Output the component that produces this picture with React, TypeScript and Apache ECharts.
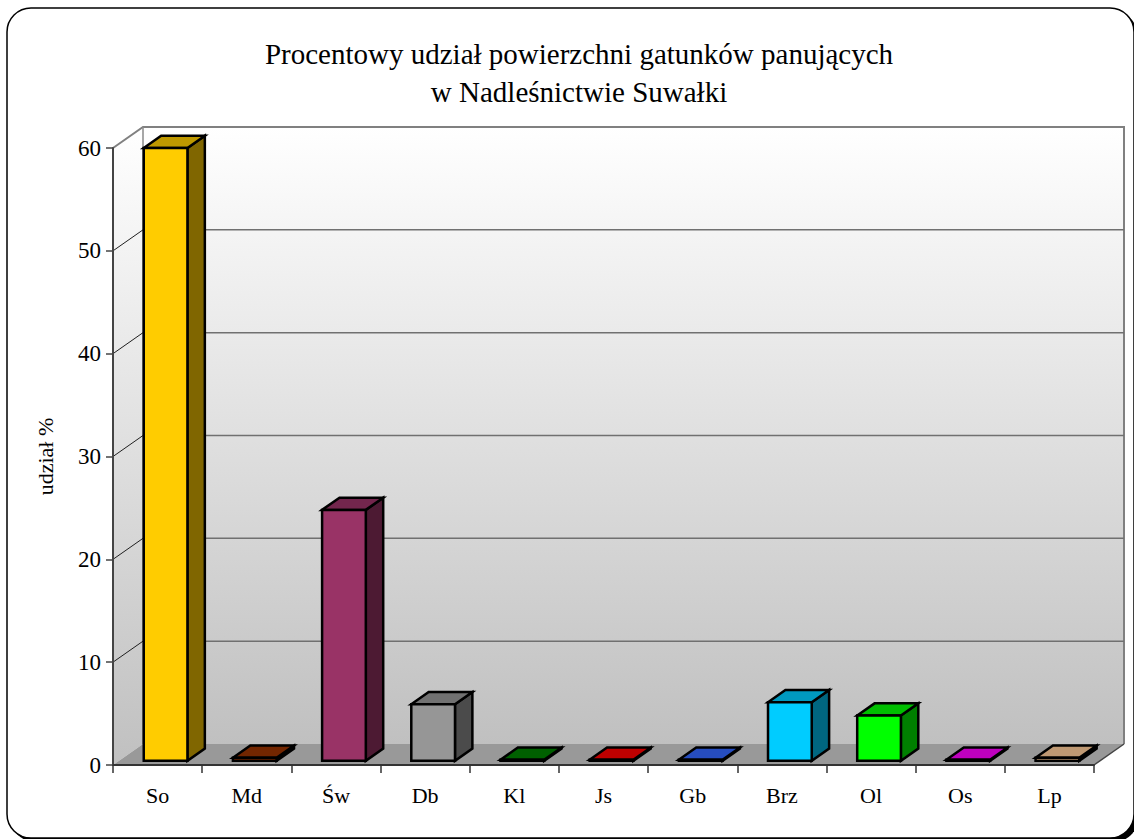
import React, { useEffect, useRef } from "react";
import * as echarts from "echarts";

const categories = ["So", "Md", "Św", "Db", "Kl", "Js", "Gb", "Brz", "Ol", "Os", "Lp"];
const values = [59.6, 0.3, 24.4, 5.5, 0.1, 0.1, 0.1, 5.7, 4.4, 0.1, 0.3];
const barColors = [
  "#FFCC00", "#993300", "#993366", "#969696", "#008000", "#FF0000",
  "#3366FF", "#00CCFF", "#00FF00", "#FF00FF", "#FFCC99",
];
const yTicks = [10, 20, 30, 40, 50];
const titleText = "Procentowy udział powierzchni gatunków panujących\nw Nadleśnictwie Suwałki";
const yAxisName = "udział %";

const DX = 30;
const DY = -21;
const BAR_SHIFT = 2;
const FONT = "'Liberation Serif', 'Times New Roman', serif";

function shade(hex: string, k: number): string {
  const n = parseInt(hex.slice(1), 16);
  const r = Math.round(((n >> 16) & 255) * k);
  const g = Math.round(((n >> 8) & 255) * k);
  const b = Math.round((n & 255) * k);
  return "rgb(" + r + "," + g + "," + b + ")";
}

export default function App() {
  const ref = useRef<HTMLDivElement>(null);
  useEffect(() => {
    if (!ref.current) return;
    const chart = echarts.init(ref.current, undefined, { renderer: "svg" });
    const wallGrad = () =>
      new echarts.graphic.LinearGradient(0, 0, 0, 1, [
        { offset: 0, color: "#FFFFFF" },
        { offset: 1, color: "#C0C0C0" },
      ]);
    const option: any = {
      animation: false,
      backgroundColor: "#FFFFFF",
      title: {
        text: titleText,
        left: 574,
        textAlign: "center",
        top: 30,
        textStyle: {
          fontFamily: FONT,
          fontSize: 29,
          fontWeight: "normal",
          lineHeight: 38,
          color: "#000",
        },
      },
      graphic: [
        {
          type: "rect",
          z: -10,
          shape: { x: 11, y: 12, width: 1127, height: 830, r: 24 },
          style: { fill: "#000" },
        },
        {
          type: "rect",
          z: -9,
          shape: { x: 7, y: 8, width: 1127, height: 830, r: 24 },
          style: { fill: "#FFFFFF", stroke: "#000", lineWidth: 1.5 },
        },
      ],
      grid: { left: 113, right: 40, top: 148, bottom: 74 },
      xAxis: {
        type: "category",
        data: categories,
        z: 10,
        axisLine: { lineStyle: { color: "#333", width: 2 } },
        axisTick: { show: true, length: 8, lineStyle: { color: "#333", width: 1.5 } },
        axisLabel: { fontFamily: FONT, fontSize: 22, color: "#000", margin: 19 },
        splitLine: { show: false },
      },
      yAxis: {
        type: "value",
        min: 0,
        max: 60,
        interval: 10,
        z: 10,
        name: yAxisName,
        nameLocation: "middle",
        nameRotate: 90,
        nameGap: 57,
        nameTextStyle: { fontFamily: FONT, fontSize: 22, color: "#000" },
        axisLine: { show: true, lineStyle: { color: "#444", width: 2 } },
        axisTick: { show: true, length: 7, lineStyle: { color: "#444", width: 1.5 } },
        axisLabel: { fontFamily: FONT, fontSize: 23, color: "#000", margin: 12 },
        splitLine: { show: false },
      },
      series: [
        {
          type: "custom",
          name: "walls",
          z: 1,
          clip: false,
          silent: true,
          data: [[0, 0]],
          renderItem: (params: any, api: any) => {
            const cs = params.coordSys;
            const x0 = cs.x, x1 = cs.x + cs.width, yt = cs.y, yb = cs.y + cs.height;
            return {
              type: "group",
              children: [
                {
                  type: "rect",
                  shape: { x: x0 + DX, y: yt + DY, width: x1 - x0, height: yb - yt },
                  style: { fill: wallGrad() },
                },
                {
                  type: "polygon",
                  shape: { points: [[x0, yt], [x0 + DX, yt + DY], [x0 + DX, yb + DY], [x0, yb]] },
                  style: { fill: wallGrad() },
                },
                {
                  type: "polygon",
                  shape: { points: [[x0, yb], [x1, yb], [x1 + DX, yb + DY], [x0 + DX, yb + DY]] },
                  style: { fill: "#999999" },
                },
                {
                  type: "polyline",
                  shape: { points: [[x0, yt], [x0 + DX, yt + DY], [x1 + DX, yt + DY], [x1 + DX, yb + DY]] },
                  style: { fill: "none", stroke: "#808080", lineWidth: 2 },
                },
                {
                  type: "line",
                  shape: { x1: x0 + DX, y1: yt + DY, x2: x0 + DX, y2: yb + DY },
                  style: { stroke: "#8a8a8a", lineWidth: 1.5 },
                },
                {
                  type: "line",
                  shape: { x1: x1, y1: yb, x2: x1 + DX, y2: yb + DY },
                  style: { stroke: "#444", lineWidth: 1.5 },
                },
              ],
            };
          },
        },
        {
          type: "custom",
          name: "gridlines",
          z: 2,
          clip: false,
          silent: true,
          data: yTicks.map((v) => [0, v]),
          encode: { x: 0, y: 1 },
          renderItem: (params: any, api: any) => {
            const cs = params.coordSys;
            const x0 = cs.x, x1 = cs.x + cs.width;
            const y = api.coord([0, api.value(1)])[1];
            return {
              type: "group",
              children: [
                {
                  type: "line",
                  shape: { x1: x0 + DX, y1: y + DY, x2: x1 + DX, y2: y + DY },
                  style: { stroke: "#707070", lineWidth: 1.5 },
                },
                {
                  type: "line",
                  shape: { x1: x0, y1: y, x2: x0 + DX, y2: y + DY },
                  style: { stroke: "#202020", lineWidth: 1 },
                },
              ],
            };
          },
        },
        {
          type: "custom",
          name: "bars",
          z: 3,
          clip: false,
          data: values.map((v, i) => [i, v]),
          encode: { x: 0, y: 1 },
          renderItem: (params: any, api: any) => {
            const i = api.value(0);
            const v = api.value(1);
            const base = api.coord([i, 0]);
            const top = api.coord([i, v]);
            const band = api.size([1, 0])[0];
            const w = band * 0.49;
            const f1 = 0.2, f2 = 0.78;
            const ox1 = DX * f1, oy1 = DY * f1;
            const dx = DX * (f2 - f1), dy = DY * (f2 - f1);
            const left = base[0] - w / 2 + ox1 + BAR_SHIFT;
            const right = left + w;
            const yb = base[1] + oy1;
            const yt = top[1] + oy1;
            const c = barColors[params.dataIndex];
            const st = { stroke: "#000", lineWidth: 2.5, lineJoin: "miter" };
            return {
              type: "group",
              children: [
                {
                  type: "polygon",
                  shape: { points: [[right, yt], [right + dx, yt + dy], [right + dx, yb + dy], [right, yb]] },
                  style: { fill: shade(c, 0.5), ...st },
                },
                {
                  type: "polygon",
                  shape: { points: [[left, yt], [left + dx, yt + dy], [right + dx, yt + dy], [right, yt]] },
                  style: { fill: shade(c, 0.75), ...st },
                },
                {
                  type: "polygon",
                  shape: { points: [[left, yt], [right, yt], [right, yb], [left, yb]] },
                  style: { fill: c, ...st },
                },
              ],
            };
          },
        },
      ],
    };
    chart.setOption(option);
    return () => chart.dispose();
  }, []);
  return (
    <div
      ref={ref}
      style={{ position: "absolute", left: 0, top: 0, width: 1134, height: 839 }}
    />
  );
}
